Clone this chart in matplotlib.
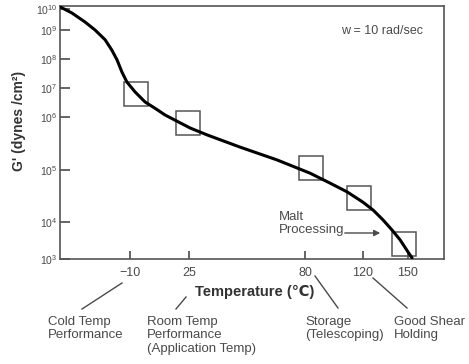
import numpy as np
import matplotlib
matplotlib.use("Agg")
import matplotlib.pyplot as plt

plt.rcParams['font.family'] = ['Liberation Sans', 'DejaVu Sans']
plt.rcParams['mathtext.fontset'] = 'custom'
plt.rcParams['mathtext.rm'] = 'Liberation Sans'

# curve (temperature in C, G' in dynes/cm2)
curve_temp = [-51, -44.0, -36.4, -30.5, -24.6, -20.6, -17.6, -14.7, -11.8, -7.0, -1.1,
              4.8, 10.8, 25.5, 33.5, 49.2, 66.7, 83.4, 97.2, 109, 120, 126.7, 133.3,
              139.3, 144.7, 150, 152.7]
curve_g = [1.26e10, 6.4e9, 2.4e9, 1.0e9, 4.6e8, 2.0e8, 9.3e7, 3.5e7, 1.6e7, 7.3e6, 3.3e6,
           2.0e6, 1.17e6, 6.2e5, 4.6e5, 2.7e5, 1.55e5, 8.7e4, 5.6e4, 3.8e4, 2.4e4, 1.7e4,
           1.1e4, 6.1e3, 3.3e3, 1.55e3, 1.07e3]

# open squares marking the regions
box_temp = [-6.5, 24.5, 84, 117, 147]
box_g = [6.2e6, 7.8e5, 1.1e5, 2.9e4, 2.6e3]

xticks = [-10, 25, 80, 120, 150]
yticks = [1e3, 1e4, 1e5, 1e6, 1e7, 1e8, 1e9, 1e10]

# the drawing is schematic: axes are stretched piecewise
x_anchor_t = [-200, -51, -10, 25, 80, 120, 150, 174, 400]
x_anchor_p = [-196, 0, 70, 129, 245, 303, 348, 384, 723]
y_anchor_l = [2, 3, 4, 5, 6, 7, 8, 9, 10, 11]
y_anchor_p = [-37, 0, 37, 89, 142, 171, 200, 229, 250, 271]


def fx(t):
    return np.interp(t, x_anchor_t, x_anchor_p)


def ix(p):
    return np.interp(p, x_anchor_p, x_anchor_t)


def fy(g):
    return np.interp(np.log10(np.clip(g, 1e-3, None)), y_anchor_l, y_anchor_p)


def iy(p):
    return 10 ** np.interp(p, y_anchor_p, y_anchor_l)


W, H = 469, 364
fig = plt.figure(figsize=(W / 100, H / 100), dpi=100)
ax = fig.add_axes([60 / W, 1 - 259 / H, 384 / W, 253 / H])
ax.set_xscale('function', functions=(fx, ix))
ax.set_yscale('function', functions=(fy, iy))
ax.set_xlim(-51, 174)
ax.set_ylim(1e3, 10 ** 10.14)

grey = '#4a4a4a'
ax.plot(curve_temp, curve_g, color='black', lw=2.2, solid_capstyle='round',
        solid_joinstyle='round', zorder=3)
ax.plot(box_temp, box_g, ls='none', marker='s', ms=17, mfc='none', mec='#555555', mew=1.1, zorder=2)

ax.set_xticks(xticks)
ax.set_xticklabels(['\u221210', '25', '80', '120', '150'])
ax.set_yticks(yticks)
ax.set_yticklabels(['10$^{%d}$' % k for k in range(3, 11)])
ax.minorticks_off()
ax.tick_params(axis='x', direction='in', length=6, width=1.2, colors=grey, labelsize=9, pad=6)
ax.tick_params(axis='y', direction='in', length=7, width=1.2, colors=grey, labelsize=7.5, pad=2)
for s in ax.spines.values():
    s.set_color('#555555')
    s.set_linewidth(1.2)


def fp(x, y):
    return (x / W, 1 - y / H)


txt = dict(color=grey, fontsize=9.5, ha='left', va='top', linespacing=1.15)
fig.text(*fp(19, 121), "G' (dynes /cm\u00b2)", rotation=90, ha='center', va='center',
         fontsize=10, fontweight='bold', color='#333333')
fig.text(*fp(255, 292), 'Temperature (\u2103)', ha='center', va='center',
         fontsize=10.5, fontweight='bold', color='#333333')
fig.text(*fp(341, 31), 'w = 10 rad/sec', color=grey, fontsize=9, ha='left', va='center')
fig.text(*fp(279, 211), 'Malt\nProcessing', **txt)
fig.text(*fp(48, 316), 'Cold Temp\nPerformance', **txt)
fig.text(*fp(147, 316), 'Room Temp\nPerformance\n(Application Temp)', **txt)
fig.text(*fp(305, 316), 'Storage\n(Telescoping)', **txt)
fig.text(*fp(394, 316), 'Good Shear\nHolding', **txt)

for (x0, y0, x1, y1) in [(82, 309, 122, 283), (176, 309, 186, 297),
                         (315, 276, 338, 308), (373, 278, 407, 308)]:
    fig.add_artist(plt.Line2D([x0 / W, x1 / W], [1 - y0 / H, 1 - y1 / H],
                              color=grey, lw=1.0, transform=fig.transFigure))

ax.annotate('', xy=fp(383, 233), xytext=fp(342, 233), xycoords='figure fraction',
            textcoords='figure fraction',
            arrowprops=dict(arrowstyle='-|>', color=grey, lw=1.0, mutation_scale=9))

fig.savefig('out.png', dpi=100)
